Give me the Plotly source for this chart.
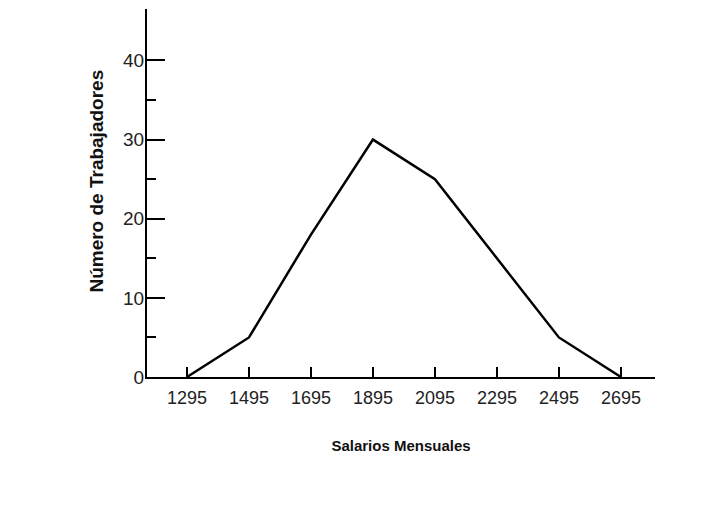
import plotly.graph_objects as go

salarios = [1295, 1495, 1695, 1895, 2095, 2295, 2495, 2695]
trabajadores = [0, 5, 18, 30, 25, 15, 5, 0]
x_ticks = salarios
y_ticks = [0, 10, 20, 30, 40]

font_narrow = "Liberation Sans Narrow, Arial Narrow, Liberation Sans, Arial"

fig = go.Figure()
fig.add_trace(go.Scatter(
    x=salarios, y=trabajadores, mode="lines",
    line=dict(color="black", width=2.5),
    showlegend=False, hoverinfo="skip",
))

fig.update_layout(
    width=710, height=520,
    margin=dict(l=139, r=63, t=1, b=151),
    paper_bgcolor="white", plot_bgcolor="white",
    xaxis=dict(
        range=[1166, 2805],
        tickmode="array", tickvals=x_ticks, ticktext=[str(v) for v in x_ticks],
        ticks="inside", ticklen=10, tickwidth=1.5, tickcolor="black",
        showline=True, linecolor="black", linewidth=2,
        showgrid=False, zeroline=False,
        ticklabelstandoff=3,
        tickfont=dict(family=font_narrow, size=18, color="#222"),
        title=dict(text="<b>Salarios Mensuales</b>",
                   font=dict(family=font_narrow, size=15, color="#111"),
                   standoff=34),
    ),
    yaxis=dict(
        range=[0, 46.5],
        tickmode="array", tickvals=y_ticks,
        ticks="inside", ticklen=18, tickwidth=1.5, tickcolor="black",
        minor=dict(tickvals=[5, 15, 25, 35], ticks="inside", ticklen=9,
                   tickwidth=1.5, tickcolor="black", showgrid=False),
        showline=True, linecolor="black", linewidth=2,
        showgrid=False, zeroline=False,
        ticklabelstandoff=-3,
        tickfont=dict(family=font_narrow, size=19, color="#222"),
    ),
    annotations=[dict(
        text="<b>Número de Trabajadores</b>",
        xref="paper", yref="paper", x=0, y=0.531,
        xanchor="center", yanchor="middle", xshift=-50,
        textangle=-90, showarrow=False,
        font=dict(family="Liberation Sans, Arial", size=19, color="#111"),
    )],
)

fig.write_html("out.html")
